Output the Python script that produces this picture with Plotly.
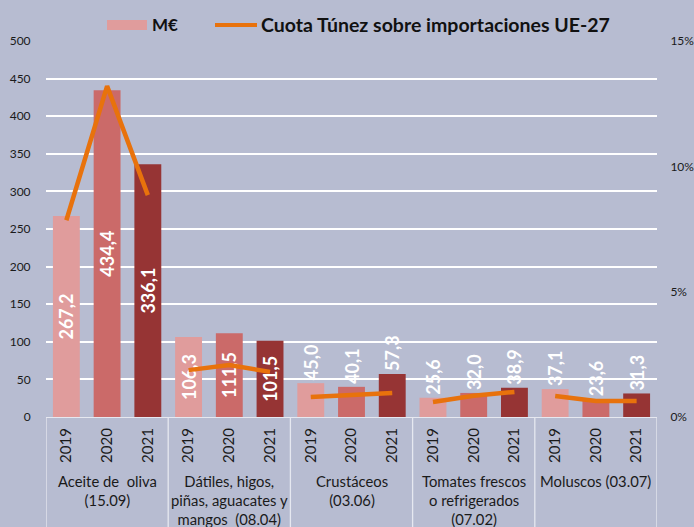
import plotly.graph_objects as go

groups = ["Aceite de  oliva<br>(15.09)",
          "Dátiles, higos,<br>piñas, aguacates y<br>mangos  (08.04)",
          "Crustáceos<br>(03.06)",
          "Tomates frescos<br>o refrigerados<br>(07.02)",
          "Moluscos (03.07)"]
years = ["2019", "2020", "2021"]
values_meur = [267.2, 434.4, 336.1,
               106.3, 111.5, 101.5,
               45.0, 40.1, 57.3,
               25.6, 32.0, 38.9,
               37.1, 23.6, 31.3]
share_pct = [7.85, 13.2, 8.85,
             1.87, 2.07, 1.8,
             0.8, 0.88, 0.96,
             0.6, 0.85, 1.0,
             0.84, 0.64, 0.64]
left_ticks = [0, 50, 100, 150, 200, 250, 300, 350, 400, 450, 500]
right_ticks = [0, 5, 10, 15]
right_tick_labels = ["0%", "5%", "10%", "15%"]

year_colors = {"2019": "#E09C9C", "2020": "#CB6A69", "2021": "#963434"}
orange = "#E8720C"
bg = "#B7BCD1"
FONT = "Lato, 'Open Sans', sans-serif"

W, H = 694, 527
ML, MT, MR = 46, 41, 37
PH = 376
MB = H - MT - PH
PW = W - ML - MR

n = len(values_meur)
xs = list(range(n))
bar_years = [years[i % 3] for i in xs]
colors = [year_colors[y] for y in bar_years]
labels = [f"{v:.1f}".replace(".", ",") for v in values_meur]
positions = ["inside" if v >= 100 else "outside" for v in values_meur]

# line with gaps between groups
lx, ly = [], []
for g in range(len(groups)):
    for k in range(3):
        lx.append(g * 3 + k)
        ly.append(share_pct[g * 3 + k])
    lx.append(None)
    ly.append(None)

lbl_font = dict(family=FONT, size=18, color="white", weight="bold")
fig = go.Figure()
fig.add_trace(go.Bar(
    x=xs, y=values_meur, name="M€", marker=dict(color=colors, line=dict(width=0)),
    width=0.66, text=labels, textposition=positions, textangle=-90,
    insidetextanchor="middle", constraintext="none",
    textfont=lbl_font, outsidetextfont=lbl_font, insidetextfont=lbl_font,
    cliponaxis=False, showlegend=False,
))
fig.add_trace(go.Scatter(
    x=lx, y=ly, yaxis="y2", mode="lines", name="Cuota Túnez sobre importaciones UE-27",
    line=dict(color=orange, width=4.5), connectgaps=False, showlegend=False,
))


def px_x(x):
    return (x - ML) / PW


def px_y(y):
    return (H - y - MB) / PH


shapes = []
annotations = []
for g, name in enumerate(groups):
    annotations.append(dict(
        x=g * 3 + 1, y=px_y(470), xref="x", yref="paper", text=name, showarrow=False,
        yanchor="top", xanchor="center", align="center",
        font=dict(family=FONT, size=14.8, color="#1a1a1a"),
    ))
for b in range(len(groups) + 1):
    shapes.append(dict(type="line", xref="x", yref="paper", x0=b * 3 - 0.5, x1=b * 3 - 0.5,
                       y0=0, y1=px_y(540), line=dict(color="#E6E8F0", width=1.3)))

# manual legend
shapes.append(dict(type="rect", xref="paper", yref="paper", x0=px_x(107), x1=px_x(147),
                   y0=px_y(30), y1=px_y(20),
                   fillcolor=year_colors["2019"], line=dict(width=0)))
shapes.append(dict(type="line", xref="paper", yref="paper", x0=px_x(215), x1=px_x(257),
                   y0=px_y(25), y1=px_y(25), line=dict(color=orange, width=4)))
annotations.append(dict(x=px_x(150), y=px_y(25), xref="paper", yref="paper",
                        text="<b>M€</b>", showarrow=False, xanchor="left", yanchor="middle",
                        font=dict(family=FONT, size=17, color="#111")))
annotations.append(dict(x=px_x(259), y=px_y(25), xref="paper", yref="paper",
                        text="<b>Cuota Túnez sobre importaciones UE-27</b>", showarrow=False,
                        xanchor="left", yanchor="middle",
                        font=dict(family=FONT, size=19.5, color="#111")))

fig.update_layout(
    width=W, height=H,
    margin=dict(l=ML, r=MR, t=MT, b=MB, autoexpand=False),
    paper_bgcolor=bg, plot_bgcolor=bg,
    showlegend=False, bargap=0.34,
    font=dict(family=FONT, size=12, color="#1a1a1a"),
    xaxis=dict(
        range=[-0.5, n - 0.5], tickmode="array", tickvals=xs, ticktext=bar_years,
        tickangle=-90, tickfont=dict(family=FONT, size=15, color="#1a1a1a"),
        showgrid=False, zeroline=False, showline=True, linecolor="#E6E8F0", linewidth=1.3,
        ticks="outside", ticklen=4, tickcolor="rgba(0,0,0,0)",
    ),
    yaxis=dict(
        range=[0, 500], tickmode="array", tickvals=left_ticks,
        showgrid=True, gridcolor="#FFFFFF", gridwidth=1.5, zeroline=False,
        ticks="outside", ticklen=12, tickcolor="rgba(0,0,0,0)",
        tickfont=dict(family=FONT, size=12, color="#1a1a1a"),
    ),
    yaxis2=dict(
        range=[0, 15], overlaying="y", side="right", tickmode="array", tickvals=right_ticks,
        ticktext=right_tick_labels, showgrid=False, zeroline=False,
        ticks="outside", ticklen=10, tickcolor="rgba(0,0,0,0)",
        tickfont=dict(family=FONT, size=12, color="#1a1a1a"),
    ),
    shapes=shapes, annotations=annotations,
)

fig.write_html(
    "out.html",
    config={"displayModeBar": False},
    post_script="document.body.style.margin='0';document.body.style.overflow='hidden';"
                "document.documentElement.style.overflow='hidden';",
)
